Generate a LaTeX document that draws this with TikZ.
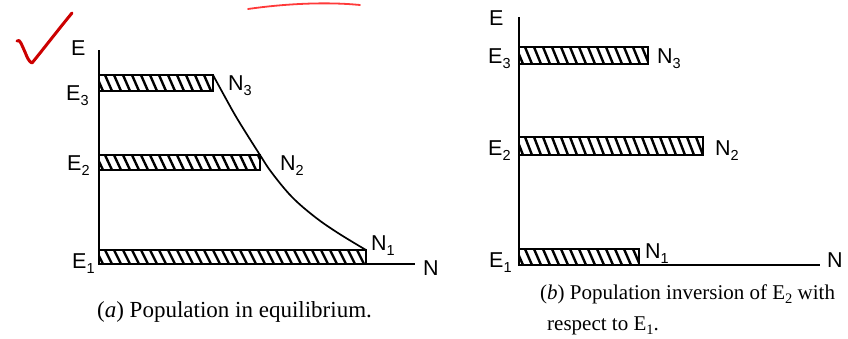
\documentclass[tikz,border=0pt]{standalone}
\usepackage{fontspec}
\setmainfont{Liberation Serif}
\newfontfamily\labfont{Liberation Sans}
\newcommand\lsub[1]{\raisebox{-5pt}{\fontsize{14.5}{14.5}\selectfont #1}}
\newcommand\csub[1]{\raisebox{-4pt}{\fontsize{14.5}{14.5}\selectfont #1}}
\newcommand\hatchbar[4]{%
  \begin{scope}
    \clip (#1,#2) rectangle (#3,#4);
    \foreach \k in {0,...,36} {
      \pgfmathsetmacro\xx{#1-12+9*\k}
      \draw[hatch] (\xx,#2) -- (\xx+7,#4);
    }
  \end{scope}
  \draw[barline] (#1,#2) rectangle (#3,#4);
}
\begin{document}
\begin{tikzpicture}[x=1pt,y=-1pt,
  axis/.style={line width=1.9pt},
  barline/.style={line width=2pt},
  hatch/.style={line width=2.4pt},
  curve/.style={line width=1.7pt},
  lab/.style={font=\labfont\fontsize{21.5}{21.5}\selectfont, inner sep=0pt, anchor=base west},
  captext/.style={inner sep=0pt, anchor=base west},
  redmark/.style={draw=red!80!black, line cap=round, line join=round}]
\useasboundingbox (0,0) rectangle (848,338);

% ---------- (a) ----------
\coordinate (ao) at (99,264);
\coordinate (atop) at (99,50);
\coordinate (aend) at (415,264);
\coordinate (a3) at (213,75);
\coordinate (a2) at (260,155);
\coordinate (a1) at (366,250);
\hatchbar{99}{75}{213}{91}
\hatchbar{99}{155}{260}{170}
\hatchbar{99}{250}{366}{264}
\draw[axis] (atop) -- (ao) -- (aend);
\draw[curve] plot[smooth, tension=0.6] coordinates {(a3) (225,97) (238,120) (a2) (272,173) (292,197) (315,217) (338,233) (a1)};

\node[lab] (aE) at (71,55) {E};
\node[lab] (aE3) at (66,100) {E\lsub{3}};
\node[lab] (aE2) at (67,170) {E\lsub{2}};
\node[lab] (aE1) at (72,268) {E\lsub{1}};
\node[lab] (aN3) at (228,90) {N\lsub{3}};
\node[lab] (aN2) at (280,170) {N\lsub{2}};
\node[lab] (aN1) at (371,250) {N\lsub{1}};
\node[lab] (aN) at (423,275) {N};
\node[captext, font=\fontsize{23}{23}\selectfont] (capa) at (97,317) {(\textit{a}) Population in equilibrium.};

% ---------- (b) ----------
\coordinate (bo) at (519,265);
\coordinate (btop) at (519,17);
\coordinate (bend) at (820,265);
\hatchbar{519}{47}{648}{64}
\hatchbar{519}{137}{703}{155}
\hatchbar{519}{249}{639}{265}
\draw[axis] (btop) -- (bo) -- (bend);

\node[lab] (bE) at (489,25) {E};
\node[lab] (bE3) at (488,63) {E\lsub{3}};
\node[lab] (bE2) at (488,155) {E\lsub{2}};
\node[lab] (bE1) at (489,267) {E\lsub{1}};
\node[lab] (bN3) at (657,63) {N\lsub{3}};
\node[lab] (bN2) at (715,155) {N\lsub{2}};
\node[lab] (bN1) at (645,258) {N\lsub{1}};
\node[lab] (bN) at (827,267) {N};
\node[captext, font=\fontsize{21}{21}\selectfont] (capb1) at (540,299) {(\textit{b}) Population inversion of E\csub{2} with};
\node[captext, font=\fontsize{21}{21}\selectfont] (capb2) at (547,330) {respect to E\csub{1}.};

% ---------- red pen marks ----------
\draw[redmark, line width=3pt] (17,41) .. controls (20,38) and (22,46) .. (25,52)
  .. controls (27,57) and (29,62) .. (32,63) .. controls (45,47) and (58,30) .. (72,13);
\draw[redmark, draw=red!70!pink, line width=1.8pt] (248,9) .. controls (290,3) and (330,2) .. (360,5);
\end{tikzpicture}
\end{document}
